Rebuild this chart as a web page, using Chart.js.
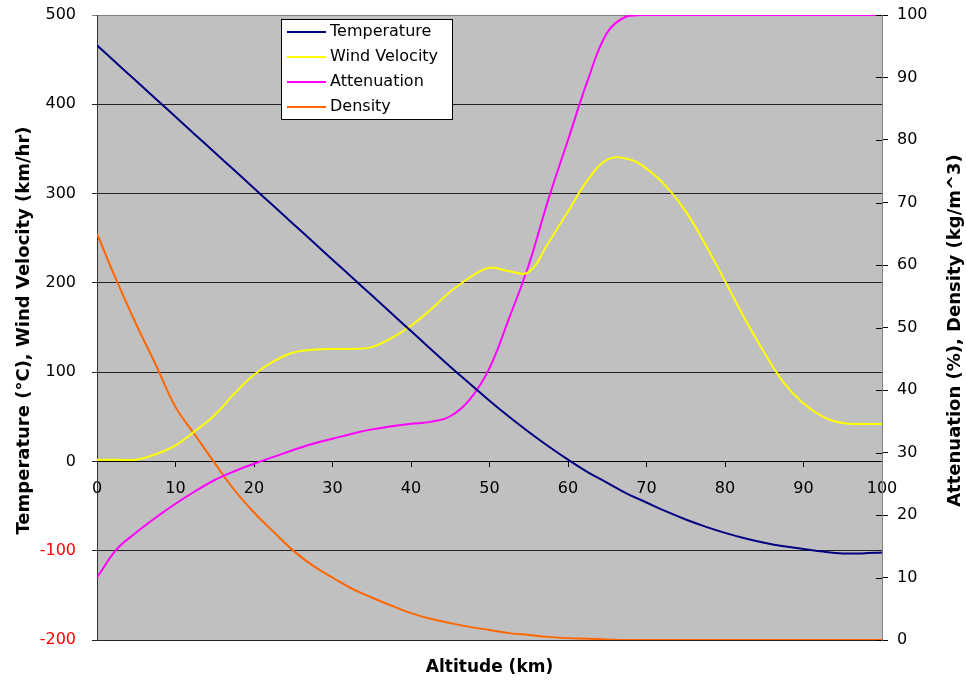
<!DOCTYPE html>
<html>
<head>
<meta charset="utf-8">
<title>Atmosphere profile</title>
<script src="https://cdn.jsdelivr.net/npm/chart.js@4.4.1/dist/chart.umd.min.js"></script>
<style>
  html, body { margin: 0; padding: 0; background: #fff; }
  #wrap { width: 966px; height: 682px; }
</style>
</head>
<body>
<div id="wrap"><canvas id="chart" width="966" height="682"></canvas></div>
<script>
// values, every 2.5 km
const altitude = [0, 2.5, 5, 7.5, 10, 12.5, 15, 17.5, 20, 22.5, 25, 27.5, 30, 32.5, 35, 37.5, 40, 42.5, 45, 47.5,
  50, 52.5, 55, 57.5, 60, 62.5, 65, 67.5, 70, 72.5, 75, 77.5, 80, 82.5, 85, 87.5, 90, 92.5, 95, 97.5, 100];
const temperature = [466, 446, 426, 406, 386, 366, 346, 326, 306, 286, 266, 246, 226, 206, 186, 166, 146, 126, 106, 87,
  68, 50, 33, 17, 2, -12, -24, -36, -46, -56, -65, -73, -80, -86, -91, -95, -98, -101, -103, -103, -102];
const windVelocity = [2, 2, 2, 8, 18, 34, 52, 76, 97, 112, 122, 125, 126, 126, 128, 138, 152, 170, 190, 206,
  217, 213, 212, 245, 280, 315, 338, 339, 328, 308, 280, 243, 202, 160, 122, 88, 65, 50, 43, 42, 42];
const attenuation = [10, 14.5, 17.2, 19.6, 21.8, 23.8, 25.6, 27, 28.2, 29.3, 30.4, 31.4, 32.2, 33, 33.7, 34.2, 34.6, 34.9, 35.8, 38.5,
  43.5, 51.5, 60, 70.5, 80, 89.5, 97.2, 99.8, 100, 100, 100, 100, 100, 100, 100, 100, 100, 100, 100, 100, 100];
const density = [65, 57.5, 50.5, 44, 37.3, 32.8, 28.3, 24, 20.4, 17.3, 14.3, 11.9, 10, 8.2, 6.8, 5.5, 4.3, 3.4, 2.7, 2.1,
  1.6, 1.1, 0.8, 0.5, 0.3, 0.2, 0.1, 0, 0, 0, 0, 0, 0, 0, 0, 0, 0, 0, 0, 0, 0];

const seriesNames = ["Temperature", "Wind Velocity", "Attenuation", "Density"];
const seriesColors = ["#000080", "#ffff00", "#ff00ff", "#ff6600"];

const xTitle = "Altitude (km)";
const leftTitle = "Temperature (\u00b0C), Wind Velocity (km/hr)";
const rightTitle = "Attenuation (%), Density (kg/m^3)";

const FONT = "'DejaVu Sans', Verdana, sans-serif";

function points(values) {
  return altitude.map((x, i) => ({ x, y: values[i] }));
}

function lineDataset(i, values, axisId) {
  return {
    label: seriesNames[i],
    data: points(values),
    yAxisID: axisId,
    borderColor: seriesColors[i],
    backgroundColor: seriesColors[i],
    borderWidth: 2,
    pointRadius: 0,
    fill: false,
    tension: 0.4,
  };
}

// pin the plot area: no extra room for half labels
function noPadding(scale) {
  scale.paddingTop = 0;
  scale.paddingBottom = 0;
  scale.paddingLeft = 0;
  scale.paddingRight = 0;
}

const plotBackground = {
  id: "plotBackground",
  beforeDraw(chart) {
    const { ctx, chartArea } = chart;
    ctx.save();
    ctx.fillStyle = "#c0c0c0";
    ctx.fillRect(chartArea.left, chartArea.top, chartArea.right - chartArea.left, chartArea.bottom - chartArea.top);
    ctx.restore();
  },
};

// right axis tick marks cross the axis line, draw the inner half
const innerTicks = {
  id: "innerTicks",
  afterDraw(chart) {
    const { ctx, chartArea } = chart;
    const scale = chart.scales.y1;
    ctx.save();
    ctx.strokeStyle = "#000";
    ctx.lineWidth = 1;
    ctx.beginPath();
    scale.ticks.forEach((t) => {
      const y = Math.round(scale.getPixelForValue(t.value)) + 0.5;
      ctx.moveTo(chartArea.right - 6, y);
      ctx.lineTo(chartArea.right, y);
    });
    ctx.stroke();
    ctx.restore();
  },
};

const axisTitles = {
  id: "axisTitles",
  afterDraw(chart) {
    const { ctx, chartArea } = chart;
    const midY = (chartArea.top + chartArea.bottom) / 2 + 3;
    ctx.save();
    ctx.fillStyle = "#000";
    ctx.textAlign = "center";
    ctx.textBaseline = "middle";
    ctx.font = "bold 17px " + FONT;
    ctx.fillText(xTitle, (chartArea.left + chartArea.right) / 2, chartArea.bottom + 28);

    ctx.font = "bold 18px " + FONT;
    ctx.save();
    ctx.translate(24, midY);
    ctx.rotate(-Math.PI / 2);
    ctx.fillText(leftTitle, 0, 0);
    ctx.restore();

    ctx.save();
    ctx.translate(955, midY);
    ctx.rotate(-Math.PI / 2);
    ctx.fillText(rightTitle, 0, 0);
    ctx.restore();
    ctx.restore();
  },
};

const boxLegend = {
  id: "boxLegend",
  afterDraw(chart) {
    const { ctx, chartArea } = chart;
    const left = chartArea.left + 184;
    const top = chartArea.top + 4;
    ctx.save();
    ctx.fillStyle = "#fff";
    ctx.fillRect(left, top, 171, 100);
    ctx.strokeStyle = "#000";
    ctx.lineWidth = 1;
    ctx.strokeRect(left + 0.5, top + 0.5, 171, 100);
    ctx.font = "16px " + FONT;
    ctx.textBaseline = "middle";
    ctx.textAlign = "left";
    chart.data.datasets.forEach((ds, i) => {
      const y = top + 13 + i * 25;
      ctx.strokeStyle = ds.borderColor;
      ctx.lineWidth = 2;
      ctx.beginPath();
      ctx.moveTo(left + 6, y);
      ctx.lineTo(left + 45, y);
      ctx.stroke();
      ctx.fillStyle = "#000";
      ctx.fillText(ds.label, left + 49, y);
    });
    ctx.restore();
  },
};

Chart.defaults.font.family = FONT;
Chart.defaults.font.size = 16;
Chart.defaults.color = "#000";

new Chart(document.getElementById("chart"), {
  type: "line",
  data: {
    datasets: [
      lineDataset(0, temperature, "y"),
      lineDataset(1, windVelocity, "y"),
      lineDataset(2, attenuation, "y1"),
      lineDataset(3, density, "y1"),
    ],
  },
  options: {
    responsive: false,
    animation: false,
    devicePixelRatio: 1,
    layout: { padding: { top: 15, bottom: 42, left: 0, right: 0 } },
    plugins: {
      legend: { display: false },
      tooltip: { enabled: false },
    },
    scales: {
      x: {
        type: "linear",
        position: { y: 0 },
        min: 0,
        max: 100,
        afterFit: noPadding,
        ticks: { stepSize: 10, padding: 13, maxRotation: 0 },
        grid: { drawOnChartArea: false, drawTicks: true, tickLength: 5, color: "#000" },
        border: { color: "#000" },
      },
      y: {
        type: "linear",
        position: "left",
        min: -200,
        max: 500,
        afterFit(scale) { scale.width = 97; noPadding(scale); },
        ticks: {
          stepSize: 100,
          padding: 16,
          color: (c) => (c.tick && c.tick.value < 0 ? "#ff0000" : "#000"),
        },
        grid: {
          tickLength: 5,
          color: (c) => (c.tick && c.tick.value === 500 ? "#808080" : "#222"),
        },
        border: { color: "#333" },
      },
      y1: {
        type: "linear",
        position: "right",
        min: 0,
        max: 100,
        afterFit(scale) { scale.width = 84; noPadding(scale); },
        ticks: { stepSize: 10, padding: 9 },
        grid: { drawOnChartArea: false, tickLength: 6, color: "#000" },
        border: { color: "#808080" },
      },
    },
  },
  plugins: [plotBackground, innerTicks, axisTitles, boxLegend],
});
</script>
</body>
</html>
